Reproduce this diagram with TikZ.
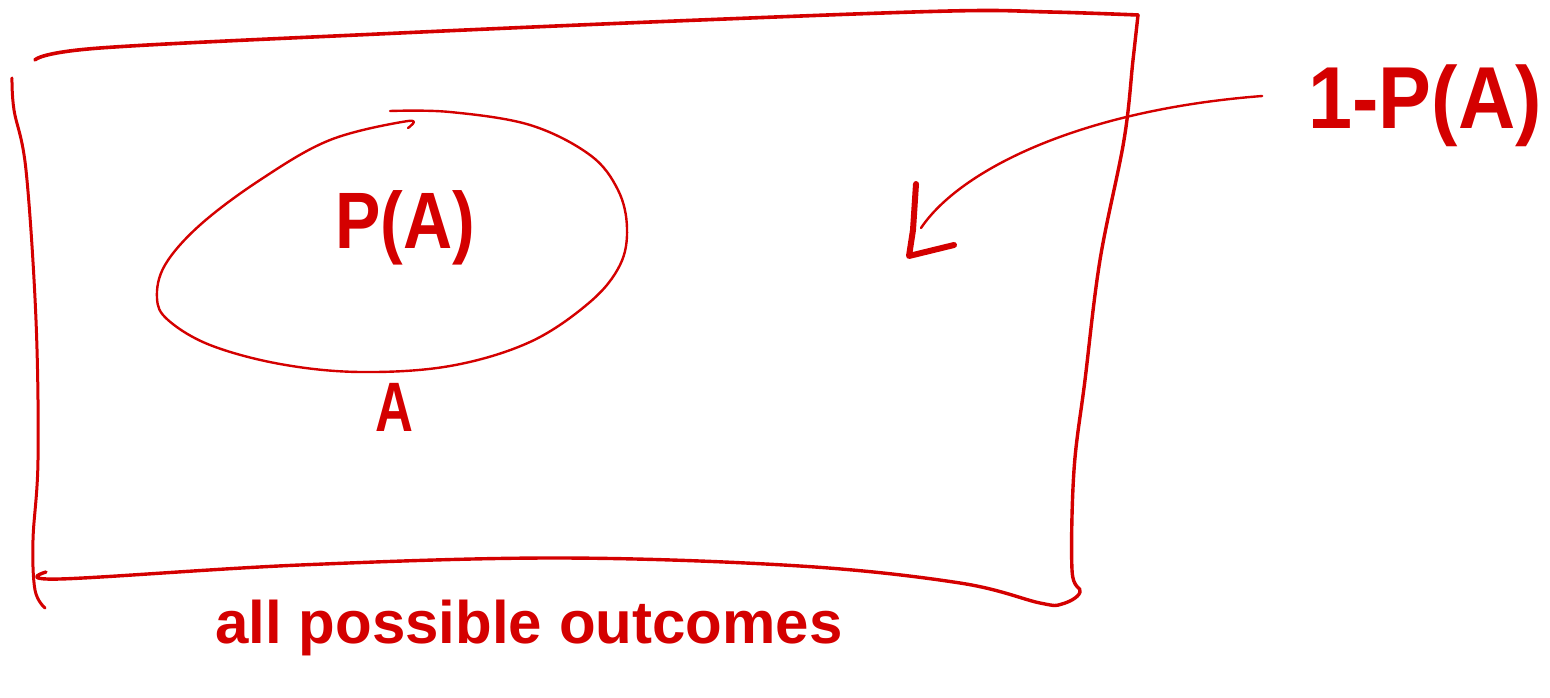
\documentclass[tikz,border=0pt]{standalone}
\usepackage{fontspec}
\setmainfont{Liberation Sans}
\definecolor{ink}{HTML}{D40000}
\begin{document}
\begin{tikzpicture}[x=1pt,y=-1pt,
  pen/.style={draw=ink,line cap=round,line join=round},
  hand/.style={text=ink,font=\bfseries,inner sep=0pt}]
\useasboundingbox (0,0) rectangle (1550,698);
% outer box: all possible outcomes
\draw[pen,line width=3.6pt] plot[smooth,tension=0.6] coordinates {(35,60) (100,48) (400,33) (700,20) (950,11) (1050,12) (1138,15)};
\draw[pen,line width=3.4pt] plot[smooth,tension=0.6] coordinates {(1138,15) (1133,60) (1124,140) (1100,260) (1085,380) (1074,470) (1072,570) (1080,592) (1062,604) (1040,603) (960,583) (800,566) (560,558) (300,565) (60,579) (46,572)};
\draw[pen,line width=3pt] plot[smooth,tension=0.6] coordinates {(12,78) (14,110) (26,170) (36,320) (38,460) (33,540) (35,590) (45,608)};
% event A
\draw[pen,line width=2.4pt] plot[smooth,tension=0.6] coordinates {(390,111) (450,112) (530,125) (590,155) (618,190) (627,228) (620,265) (590,302) (530,342) (450,366) (360,372) (280,364) (210,345) (168,320) (157,298) (165,265) (200,225) (260,180) (330,140) (408,121) (408,128)};
% labels
\node[hand] (pa) at (405,228) {\fontsize{80}{80}\selectfont\scalebox{0.85}[1]{P(A)}};
\node[hand] (a) at (394,407) {\fontsize{70}{70}\selectfont\scalebox{0.75}[1]{A}};
\node[hand] (onepa) at (1425,106) {\fontsize{88}{88}\selectfont\scalebox{0.9}[1]{1-P(A)}};
\node[hand] (all) at (529,628) {\fontsize{60}{60}\selectfont all possible outcomes};
% arrow from 1-P(A) into the complement
\coordinate (tip) at (909,256);
\draw[pen,line width=2.4pt] ([xshift=-46pt,yshift=10pt]onepa.west) .. controls (1080,110) and (960,170) .. (921,228);
\draw[pen,line width=6pt] (916,184) -- (913,230) -- (tip) -- (954,245);
\end{tikzpicture}
\end{document}
